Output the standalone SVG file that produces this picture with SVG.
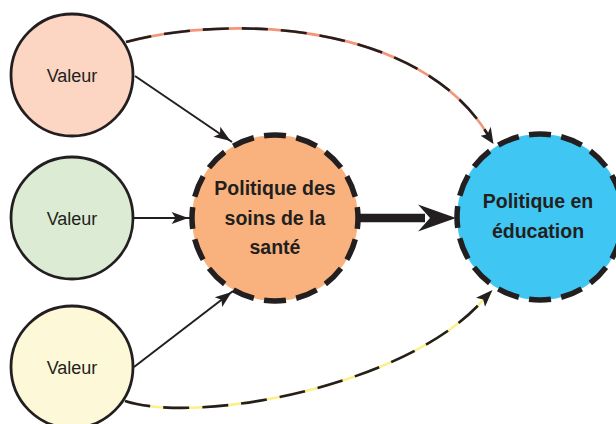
<svg xmlns="http://www.w3.org/2000/svg" width="616" height="424" viewBox="0 0 616 424">
<style>
.val{stroke:#231f20;stroke-width:2.8}
.pol{stroke:#231f20;stroke-width:5.5;stroke-dasharray:6.8 3.2;stroke-dashoffset:3.4}
.lbl{font-family:"Liberation Sans",Arial,sans-serif;font-size:18px;fill:#231f20;text-anchor:middle}
.bold{font-family:"Liberation Sans",Arial,sans-serif;font-size:19.5px;font-weight:bold;fill:#231f20;text-anchor:middle}
.edge{fill:none;stroke:#231f20;stroke-width:2}
.curve{fill:none;stroke-width:2.6}
.head{fill:#231f20}
</style>
<defs>
<marker id="ah" markerUnits="userSpaceOnUse" markerWidth="20" markerHeight="20" viewBox="-16 -8 18 16" refX="1.5" refY="0" orient="auto">
<path d="M0,0 L-15,-5.5 L-11.5,0 L-15,5.5 Z" fill="#231f20"/>
</marker>
</defs>
<rect width="616" height="424" fill="#ffffff"/>
<g id="connectors">
<path class="curve" d="M126,42 C230,14 420,22 488,135" stroke="#f4957a"/>
<path class="curve" d="M126,42 C230,14 420,22 488,135" stroke="#231f20" stroke-dasharray="26 13"/>
<path class="head" d="M493.5,144 L480.7,135.7 L487.4,134.2 L490.7,126.7 Z"/>
<path class="curve" d="M125,401 C200,425 410,385 484,299" stroke="#fbf08a"/>
<path class="curve" d="M125,401 C200,425 410,385 484,299" stroke="#231f20" stroke-dasharray="26 13"/>
<path class="head" d="M492.5,290 L485,306.7 L483.2,299.5 L476,297.7 Z"/>
<line class="edge" x1="135" y1="76" x2="232" y2="142" marker-end="url(#ah)"/>
<line class="edge" x1="134" y1="218" x2="190" y2="218" marker-end="url(#ah)"/>
<line class="edge" x1="134" y1="367" x2="233" y2="291" marker-end="url(#ah)"/>
<line x1="358" y1="218" x2="425" y2="218" stroke="#231f20" stroke-width="8.5"/>
<path d="M456,218 L418,204.5 L430,218 L418,231.5 Z" fill="#231f20"/>
</g>
<g id="valeur1">
<circle class="val" cx="72" cy="75" r="61" fill="#fcd5c3"/>
<text class="lbl" x="72" y="81.5">Valeur</text>
</g>
<g id="valeur2">
<circle class="val" cx="72" cy="218" r="61" fill="#dcebd3"/>
<text class="lbl" x="72" y="224.5">Valeur</text>
</g>
<g id="valeur3">
<circle class="val" cx="72" cy="367" r="61" fill="#fdf9d8"/>
<text class="lbl" x="72" y="373.5">Valeur</text>
</g>
<g id="sante">
<circle class="pol" cx="275" cy="218" r="83" fill="#f9b27d" pathLength="160"/>
<text class="bold" x="275" y="195">Politique des</text>
<text class="bold" x="275" y="225">soins de la</text>
<text class="bold" x="275" y="254">santé</text>
</g>
<g id="education">
<circle class="pol" cx="540" cy="217" r="83" fill="#40c6f2" pathLength="160"/>
<text class="bold" x="538" y="208">Politique en</text>
<text class="bold" x="538" y="238">éducation</text>
</g>
</svg>
